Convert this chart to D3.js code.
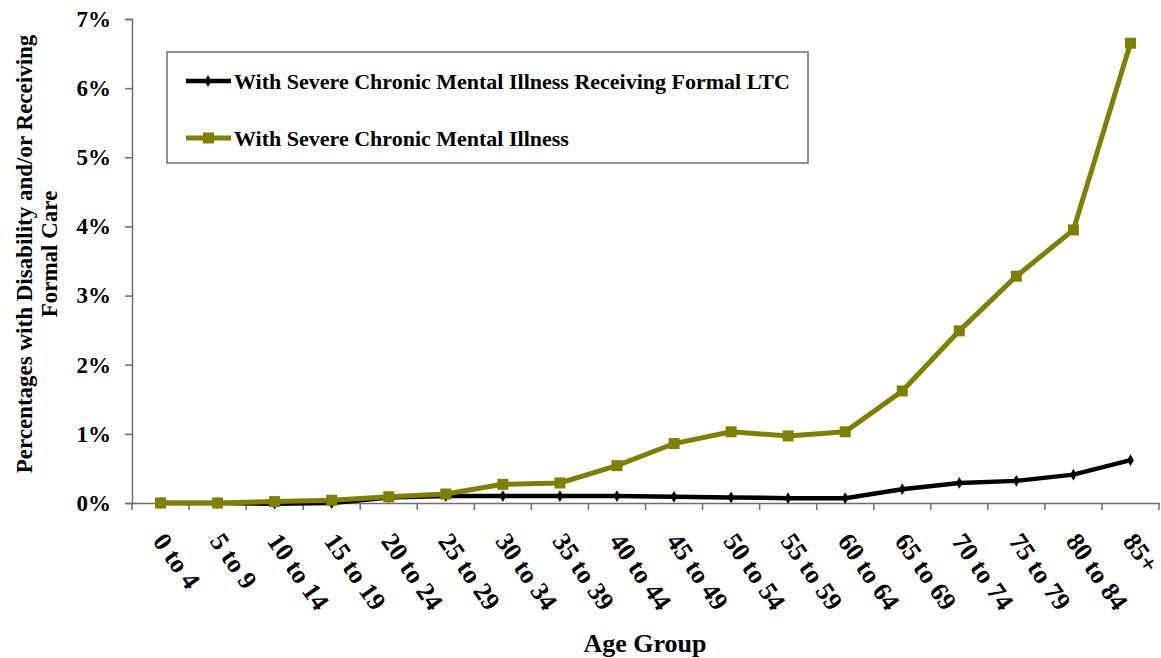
<!DOCTYPE html>
<html>
<head>
<meta charset="utf-8">
<script src="https://cdn.jsdelivr.net/npm/d3@7"></script>
<style>
  body { margin: 0; background: #fff; }
  text { font-family: "Liberation Serif", "Times New Roman", serif; font-weight: bold; }
</style>
</head>
<body>
<svg id="chart"></svg>
<script>
const ageGroups = ['0 to 4', '5 to 9', '10 to 14', '15 to 19', '20 to 24', '25 to 29', '30 to 34',
  '35 to 39', '40 to 44', '45 to 49', '50 to 54', '55 to 59', '60 to 64', '65 to 69', '70 to 74',
  '75 to 79', '80 to 84', '85+'];
const receivingLTC = [0.0, 0.0, -0.01, 0.0, 0.08, 0.10, 0.10, 0.10, 0.10, 0.09, 0.08, 0.07, 0.07,
  0.20, 0.29, 0.32, 0.41, 0.62];
const mentalIllness = [0.0, 0.0, 0.02, 0.04, 0.09, 0.13, 0.27, 0.29, 0.54, 0.86, 1.03, 0.97, 1.03,
  1.62, 2.49, 3.28, 3.95, 6.65];
const yTicks = [0, 1, 2, 3, 4, 5, 6, 7];

const width = 1161, height = 658;
const margin = {top: 19, right: 2, bottom: 155, left: 132};
const innerW = width - margin.left - margin.right;
const innerH = height - margin.top - margin.bottom;

const svg = d3.select('#chart').attr('width', width).attr('height', height);
const chart = svg.append('g').attr('transform', `translate(${margin.left}, ${margin.top})`);

const xscale = d3.scaleBand().domain(ageGroups).range([0, innerW]);
const yscale = d3.scaleLinear().domain([0, 7]).range([innerH, 0]);
const xpos = d => xscale(d) + xscale.bandwidth() / 2;

// axes
const yaxis = d3.axisLeft(yscale).tickValues(yTicks).tickSize(7).tickPadding(14)
  .tickFormat(d => d + '%');
const yg = chart.append('g').call(yaxis);
yg.select('.domain').attr('stroke', '#6e6e6e').attr('stroke-width', 1.5);
yg.selectAll('.tick line').attr('stroke', '#6e6e6e').attr('stroke-width', 1.5);
yg.selectAll('.tick text').style('font-size', '23px').attr('fill', '#000');

const xaxis = d3.axisBottom(xscale).tickSize(0).tickFormat('');
const xg = chart.append('g').attr('transform', `translate(0, ${innerH})`).call(xaxis);
xg.select('.domain').attr('stroke', '#6e6e6e').attr('stroke-width', 1.5);
// tick marks on band boundaries
const bounds = ageGroups.map(d => xscale(d)).concat([innerW]);
xg.selectAll('.bound').data(bounds).join('line')
  .attr('x1', d => d).attr('x2', d => d).attr('y1', 0).attr('y2', 7)
  .attr('stroke', '#6e6e6e').attr('stroke-width', 1.5);

xg.selectAll('.xl').data(ageGroups).join('text')
  .attr('transform', d => `translate(${xpos(d) - 1}, 33) rotate(55)`)
  .attr('text-anchor', 'start')
  .attr('dy', '0.35em')
  .style('font-size', '26px')
  .attr('fill', '#000')
  .text(d => d);

// lines
const line = d3.line().x((d, i) => xpos(ageGroups[i])).y(d => yscale(d));

chart.append('path').datum(receivingLTC)
  .attr('d', line).attr('fill', 'none').attr('stroke', '#000').attr('stroke-width', 4.5);
chart.selectAll('.dia').data(receivingLTC).join('path')
  .attr('d', d3.symbol(d3.symbolDiamond, 40))
  .attr('transform', (d, i) => `translate(${xpos(ageGroups[i])}, ${yscale(d)})`)
  .attr('fill', '#000');

chart.append('path').datum(mentalIllness)
  .attr('d', line).attr('fill', 'none').attr('stroke', '#808000').attr('stroke-width', 5);
chart.selectAll('.sq').data(mentalIllness).join('rect')
  .attr('x', (d, i) => xpos(ageGroups[i]) - 5.5)
  .attr('y', d => yscale(d) - 5.5)
  .attr('width', 11).attr('height', 11)
  .attr('fill', '#808000');

// legend
const legend = svg.append('g');
legend.append('rect').attr('x', 167).attr('y', 52).attr('width', 641).attr('height', 111)
  .attr('fill', '#fff').attr('stroke', '#6e6e6e').attr('stroke-width', 1.5);
const items = [
  {label: 'With Severe Chronic Mental Illness Receiving Formal LTC', color: '#000', shape: 'diamond'},
  {label: 'With Severe Chronic Mental Illness', color: '#808000', shape: 'square'}
];
items.forEach((it, i) => {
  const y = 81 + i * 57;
  legend.append('line').attr('x1', 186).attr('x2', 231).attr('y1', y).attr('y2', y)
    .attr('stroke', it.color).attr('stroke-width', it.shape === 'square' ? 5 : 4.5);
  if (it.shape === 'square') {
    legend.append('rect').attr('x', 203).attr('y', y - 5.5).attr('width', 11).attr('height', 11)
      .attr('fill', it.color);
  } else {
    legend.append('path').attr('d', d3.symbol(d3.symbolDiamond, 40))
      .attr('transform', `translate(208, ${y})`).attr('fill', it.color);
  }
  legend.append('text').attr('x', 234).attr('y', y).attr('dy', '0.35em')
    .style('font-size', '22px').text(it.label);
});

// axis titles
svg.append('text').attr('x', 645).attr('y', 652)
  .attr('text-anchor', 'middle').style('font-size', '26px').text('Age Group');

const yt = svg.append('text').attr('transform', 'translate(0, 254) rotate(-90)')
  .attr('text-anchor', 'middle').style('font-size', '23px');
yt.append('tspan').attr('x', 0).attr('y', 32).text('Percentages with Disability and/or Receiving');
yt.append('tspan').attr('x', 0).attr('y', 57).text('Formal Care');
</script>
</body>
</html>
